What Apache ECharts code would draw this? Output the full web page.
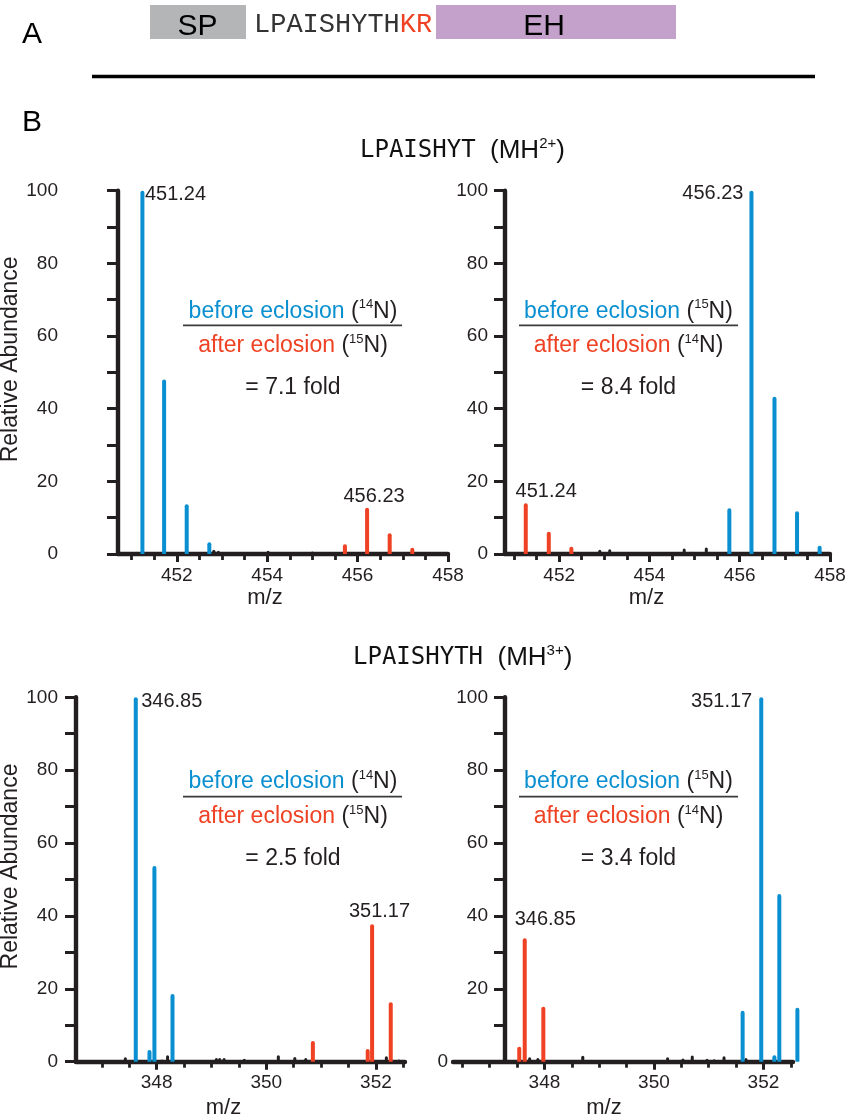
<!DOCTYPE html>
<html>
<head>
<meta charset="utf-8">
<title>LPAISHYT / LPAISHYTH isotope spectra</title>
<script src="https://cdn.jsdelivr.net/npm/echarts@6/dist/echarts.min.js"></script>
<style>
    html, body { margin: 0; padding: 0; background: #fff; }
    #chart { width: 848px; height: 1119px; }
</style>
</head>
<body>
<div id="chart"></div>
<script>
// ---- data ----
const seqMain = 'LPAISHYTH';
const seqCut = 'KR';
const titleTop = ['LPAISHYT', '2+'];
const titleBottom = ['LPAISHYTH', '3+'];

const yTicks = [0, 10, 20, 30, 40, 50, 60, 70, 80, 90, 100];
const yLabels = [0, 20, 40, 60, 80, 100];
const topMinorTicks = [451, 451.5, 452, 452.5, 453, 453.5, 454, 454.5, 455, 455.5, 456, 456.5, 457, 457.5, 458];
const topMajorTicks = [452, 454, 456, 458];
const botMinorTicks = [346.5, 347, 347.5, 348, 348.5, 349, 349.5, 350, 350.5, 351, 351.5, 352, 352.5];
const botMajorTicks = [348, 350, 352];

// top left: LPAISHYT, before 14N / after 15N
const p1Blue = [[451.24, 100], [451.72, 48], [452.22, 13.7], [452.72, 3.2]];
const p1Red = [[455.72, 2.7], [456.21, 12.7], [456.71, 5.7], [457.21, 1.7]];
const p1Noise = [[450.9, 0.4], [451.1, 0.6], [452.82, 1.2], [452.92, 0.9], [453.6, 0.4], [454.02, 0.9], [454.6, 0.3], [455.0, 0.7], [455.35, 0.3], [457.5, 0.3]];
// top right: LPAISHYT, before 15N / after 14N
const p2Red = [[451.26, 14], [451.77, 6.1], [452.27, 2.0]];
const p2Blue = [[455.77, 12.6], [456.26, 100], [456.77, 43.3], [457.27, 11.8], [457.77, 2.3]];
const p2Noise = [[451.06, 0.4], [452.9, 1.2], [453.12, 1.3], [454.77, 1.5], [454.95, 0.6], [455.26, 1.8], [457.06, 0.5]];
// bottom left: LPAISHYTH, before 14N / after 15N
const p3Blue = [[347.62, 100], [347.87, 3.2], [347.96, 53.7], [348.29, 18.6]];
const p3Red = [[350.85, 5.7], [351.85, 3.5], [351.93, 37.7], [352.27, 16.3]];
const p3Noise = [[347.43, 1.2], [348.1, 0.6], [348.2, 1.8], [349.09, 1.0], [349.15, 1.0], [349.23, 1.0], [349.6, 0.8], [350.22, 1.8], [350.52, 1.3], [350.72, 1.0], [352.19, 1.5], [352.42, 0.6]];
// bottom right: LPAISHYTH, before 15N / after 14N
const p4Red = [[347.54, 4.1], [347.64, 33.9], [347.98, 15.1]];
const p4Blue = [[351.62, 14.0], [351.96, 100], [352.2, 1.8], [352.29, 46.0], [352.62, 14.8]];
const p4Noise = [[347.73, 1.2], [347.88, 1.0], [348.23, 0.3], [348.7, 1.6], [349.93, 0.3], [350.25, 1.2], [350.53, 0.9], [350.7, 1.7], [350.97, 0.8], [351.1, 0.7], [351.28, 1.5], [351.68, 1.0]];

const peakNames = [['451.24', '456.23'], ['451.24', '456.23'], ['346.85', '351.17'], ['346.85', '351.17']];
const isotopes = [['14', '15'], ['15', '14'], ['14', '15'], ['15', '14']];
const folds = ['7.1', '8.4', '2.5', '3.4'];

// ---- styling ----
const FONT = 'Liberation Sans';
const INK = '#231f20';
const BLUE = '#0a8fd0';
const RED = '#ef4123';

const myChart = echarts.init(document.getElementById('chart'));

function gridAt(left, top, width, height) {
    return { left, top, width, height, containLabel: false, outerBoundsMode: 'none' };
}

function xAxesFor(g, min, max, minor, major, nameGap, shift) {
    return [{
        gridIndex: g, type: 'value', position: 'bottom', min, max,
        axisLine: { show: true, lineStyle: { color: INK, width: 4.4 } },
        axisTick: { show: true, customValues: minor, length: 6, lineStyle: { color: INK, width: 2.8 } },
        axisLabel: { show: false },
        splitLine: { show: false },
        name: 'm/z', nameLocation: 'middle', nameGap,
        nameTextStyle: { fontFamily: FONT, fontSize: 22, color: INK, padding: [0, shift * 2, 0, 0] }
    }, {
        gridIndex: g, type: 'value', position: 'bottom', min, max,
        axisLine: { show: false },
        axisTick: { show: true, customValues: major, length: 8, lineStyle: { color: INK, width: 3 } },
        axisLabel: { customValues: major, margin: 12, fontFamily: FONT, fontSize: 19, color: INK },
        splitLine: { show: false }
    }];
}

function yAxisFor(g, margin, labels, nameGap) {
    const axis = {
        gridIndex: g, type: 'value', position: 'left', min: 0, max: 100,
        axisLine: { show: true, lineStyle: { color: INK, width: 4.4 } },
        axisTick: { show: true, customValues: yTicks, length: 11, lineStyle: { color: INK, width: 3 } },
        axisLabel: { customValues: labels, margin, fontFamily: FONT, fontSize: 19, color: INK },
        splitLine: { show: false }
    };
    if (nameGap) {
        axis.name = 'Relative Abundance';
        axis.nameLocation = 'middle';
        axis.nameGap = nameGap;
        axis.nameTextStyle = { fontFamily: FONT, fontSize: 23, color: INK, padding: [0, 0, 0, 26] };
    }
    return axis;
}

// label for one named peak of a series: offset from the bar's top-left, text alignment
function withLabel(data, idx, text, pos, align) {
    return data.map((d, i) => i !== idx ? d : {
        value: d,
        label: {
            show: true, formatter: text, position: pos, align, verticalAlign: 'middle',
            fontFamily: FONT, fontSize: 20, color: INK
        }
    });
}

function bars(xi, yi, data, color, width) {
    return {
        type: 'bar', xAxisIndex: xi, yAxisIndex: yi, data,
        barWidth: width, barGap: '-100%', silent: true, clip: false,
        itemStyle: { color, borderRadius: [2, 2, 0, 0] }
    };
}

const richFrac = {
    b: { fontFamily: FONT, fontSize: 23, fill: BLUE, lineHeight: 26 },
    r: { fontFamily: FONT, fontSize: 23, fill: RED, lineHeight: 26 },
    k: { fontFamily: FONT, fontSize: 23, fill: INK, lineHeight: 26 },
    s: { fontFamily: FONT, fontSize: 13, fill: INK, lineHeight: 14, verticalAlign: 'top' }
};

function fraction(i, cx, x0, x1, yTop, yLine, yBot, yFold) {
    const base = { fontFamily: FONT, fontSize: 23, align: 'center', verticalAlign: 'middle', rich: richFrac };
    return [
        { type: 'text', x: cx, y: yTop, style: Object.assign({ text: '{b|before eclosion}{k| (}{s|' + isotopes[i][0] + '}{k|N)}' }, base) },
        { type: 'line', shape: { x1: x0, y1: yLine, x2: x1, y2: yLine }, style: { stroke: '#3a3a3a', lineWidth: 1.8 } },
        { type: 'text', x: cx, y: yBot, style: Object.assign({ text: '{r|after eclosion}{k| (}{s|' + isotopes[i][1] + '}{k|N)}' }, base) },
        { type: 'text', x: cx, y: yFold, style: { text: '= ' + folds[i] + ' fold', fontFamily: FONT, fontSize: 23, fill: INK, align: 'center', verticalAlign: 'middle' } }
    ];
}

const richTitle = {
    m: { fontFamily: 'DejaVu Sans Mono', fontSize: 24, fill: '#111', lineHeight: 30 },
    n: { fontFamily: FONT, fontSize: 26, fill: '#111', lineHeight: 30 },
    s: { fontFamily: FONT, fontSize: 15, fill: '#111', lineHeight: 19, verticalAlign: 'top' }
};

const graphics = [
    { type: 'text', x: 22, y: 35, style: { text: 'A', fontFamily: FONT, fontSize: 30, fill: '#000', verticalAlign: 'middle' } },
    { type: 'rect', shape: { x: 150, y: 5, width: 96, height: 34 }, style: { fill: '#b4b5b7' } },
    { type: 'text', x: 197.5, y: 26.5, style: { text: 'SP', fontFamily: FONT, fontSize: 30, fill: '#000', align: 'center', verticalAlign: 'middle' } },
    { type: 'text', x: 254, y: 24.5, style: {
        text: '{g|' + seqMain + '}{c|' + seqCut + '}', verticalAlign: 'middle',
        rich: {
            g: { fontFamily: 'Liberation Mono', fontSize: 27, fill: '#333' },
            c: { fontFamily: 'Liberation Mono', fontSize: 27, fill: RED }
        }
    } },
    { type: 'rect', shape: { x: 436, y: 5, width: 240, height: 34 }, style: { fill: '#c4a1cb' } },
    { type: 'text', x: 544, y: 26.5, style: { text: 'EH', fontFamily: FONT, fontSize: 30, fill: '#000', align: 'center', verticalAlign: 'middle' } },
    { type: 'line', shape: { x1: 92, y1: 76.5, x2: 815, y2: 76.5 }, style: { stroke: '#000', lineWidth: 3.4 } },
    { type: 'text', x: 22, y: 122.5, style: { text: 'B', fontFamily: FONT, fontSize: 30, fill: '#000', verticalAlign: 'middle' } },
    { type: 'text', x: 360, y: 151, style: { text: '{m|' + titleTop[0] + ' }{n|(MH}{s|' + titleTop[1] + '}{n|)}', verticalAlign: 'middle', rich: richTitle } },
    { type: 'text', x: 353, y: 658, style: { text: '{m|' + titleBottom[0] + ' }{n|(MH}{s|' + titleBottom[1] + '}{n|)}', verticalAlign: 'middle', rich: richTitle } }
].concat(
    fraction(0, 293, 183, 402, 311.3, 325.3, 345.8, 387.3),
    fraction(1, 628.5, 519, 738, 311.3, 325.3, 345.8, 387.3),
    fraction(2, 293, 183, 402, 781.8, 796.7, 816.8, 858.8),
    fraction(3, 628.5, 519, 738, 781.8, 796.7, 816.8, 858.8)
);

const option = {
    animation: false,
    backgroundColor: '#fff',
    grid: [
        gridAt(118, 190.7, 330, 363.3),
        gridAt(505, 190.7, 325, 363.3),
        gridAt(76, 697.3, 329, 364.4),
        gridAt(453, 697.3, 340, 364.4),
        gridAt(505, 697.3, 288, 364.4)
    ],
    xAxis: [].concat(
        xAxesFor(0, 450.7, 458, topMinorTicks, topMajorTicks, 33, 18),
        xAxesFor(1, 450.8, 458, topMinorTicks, topMajorTicks, 33, 21),
        xAxesFor(2, 346.53, 352.53, botMinorTicks, botMajorTicks, 35, 17),
        xAxesFor(3, 346.33, 352.54, botMinorTicks, botMajorTicks, 35, 19),
        [{ gridIndex: 4, type: 'value', min: 0, max: 1, show: false }]
    ),
    yAxis: [
        yAxisFor(0, 60, yLabels, 86),
        yAxisFor(1, 17, yLabels, 0),
        yAxisFor(2, 18, yLabels, 44),
        {
            gridIndex: 3, type: 'value', position: 'left', min: 0, max: 100,
            axisLine: { show: false }, axisTick: { show: false }, splitLine: { show: false },
            axisLabel: { customValues: [0], margin: 5, fontFamily: FONT, fontSize: 19, color: INK }
        },
        yAxisFor(4, 17, yLabels.filter(v => v !== 0), 0)
    ],
    series: [
        bars(0, 0, p1Noise, INK, 3),
        bars(1, 0, withLabel(p1Blue, 0, peakNames[0][0], [4.5, 3.8], 'left'), BLUE, 4),
        bars(1, 0, withLabel(p1Red, 1, peakNames[0][1], [9, -11], 'center'), RED, 4),

        bars(2, 1, p2Noise, INK, 3),
        bars(3, 1, withLabel(p2Red, 0, peakNames[1][0], [22.4, -12], 'center'), RED, 4),
        bars(3, 1, withLabel(p2Blue, 1, peakNames[1][1], [-6, 2.5], 'right'), BLUE, 4),

        bars(4, 2, p3Noise, INK, 3),
        bars(5, 2, withLabel(p3Blue, 0, peakNames[2][0], [7.4, 3.7], 'left'), BLUE, 4),
        bars(5, 2, withLabel(p3Red, 2, peakNames[2][1], [9.4, -13.3], 'center'), RED, 4),

        bars(6, 3, p4Noise, INK, 3),
        bars(7, 3, withLabel(p4Red, 1, peakNames[3][0], [22.5, -18.2], 'center'), RED, 4),
        bars(7, 3, withLabel(p4Blue, 1, peakNames[3][1], [-7, 3.7], 'right'), BLUE, 4)
    ],
    graphic: { elements: graphics }
};

myChart.setOption(option);
window.onresize = () => {
    myChart.resize();
};
</script>
</body>
</html>
